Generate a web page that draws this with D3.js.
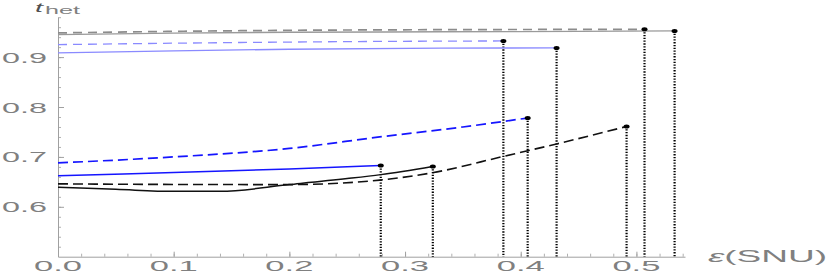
<!DOCTYPE html>
<html>
<head>
<meta charset="utf-8">
<script src="https://cdn.jsdelivr.net/npm/d3@7"></script>
<style>
  body { margin: 0; background: #fff; }
  svg { display: block; }
  .tick text { font-family: "Liberation Sans", Arial, sans-serif; fill: #808080; }
</style>
</head>
<body>
<svg class="plot" width="830" height="273"></svg>
<script>
// curves: [eps, t_het]
var greySolid   = [[0, 0.9451], [0.1, 0.9481], [0.2, 0.9498], [0.331, 0.9507], [0.45, 0.9516], [0.533, 0.9525]];
var greyDashed  = [[0, 0.9485], [0.1, 0.9516], [0.2, 0.9537], [0.331, 0.9550], [0.507, 0.9556]];
var lblueDashed = [[0, 0.925], [0.1, 0.9279], [0.2, 0.9302], [0.331, 0.9320], [0.385, 0.9324]];
var lblueSolid  = [[0, 0.9084], [0.1, 0.9125], [0.2, 0.9158], [0.331, 0.9180], [0.431, 0.9184]];
var blueDashed  = [[0, 0.688], [0.1, 0.700], [0.2, 0.717], [0.278, 0.740], [0.35, 0.760], [0.406, 0.778]];
var blueSolid   = [[0, 0.662], [0.1, 0.669], [0.2, 0.676], [0.279, 0.6826]];
var blackDashed = [[0, 0.646], [0.1, 0.6448], [0.2, 0.6445], [0.278, 0.6535], [0.323, 0.668], [0.385, 0.701], [0.431, 0.726], [0.4915, 0.761]];
var blackSolid  = [[0, 0.639], [0.05, 0.635], [0.1, 0.631], [0.14, 0.631], [0.2, 0.6445], [0.25, 0.6565], [0.279, 0.6645], [0.324, 0.681]];

var xMajor = [0, 0.1, 0.2, 0.3, 0.4, 0.5];
var yMajor = [0.6, 0.7, 0.8, 0.9];

var svg = d3.select(".plot");

var x = d3.scaleLinear().domain([0, 0.542]).range([58, 685]),
    y = d3.scaleLinear().domain([0.5, 0.98]).range([256.7, 17.2]);

var series = [
  {data: greySolid,   color: "#9a9a9a", dash: null,  w: 1.4},
  {data: greyDashed,  color: "#8c8c8c", dash: "9,6", w: 1.7},
  {data: lblueDashed, color: "#8a8aff", dash: "9,6", w: 1.3},
  {data: lblueSolid,  color: "#8a8aff", dash: null,  w: 1.3},
  {data: blueDashed,  color: "#1515ff", dash: "10,5", w: 1.7},
  {data: blueSolid,   color: "#1515ff", dash: null,  w: 1.5},
  {data: blackDashed, color: "#111",    dash: "10,5", w: 1.6},
  {data: blackSolid,  color: "#111",    dash: null,  w: 1.5}
];

// axes: minor ticks every 0.02, major with labels
var xMinor = d3.range(0, 0.5401, 0.02);
var yMinor = d3.range(0.52, 0.9801, 0.02);

svg.append("g")
    .attr("transform", "translate(0," + y(0.5) + ")")
    .call(d3.axisBottom(x).tickValues(xMinor).tickSize(-3).tickFormat(""))
    .call(function(g) { g.select(".domain").remove(); g.selectAll("line").attr("stroke", "#b0b0b0"); });

svg.append("g")
    .attr("transform", "translate(" + x(0) + ",0)")
    .call(d3.axisRight(y).tickValues(yMinor).tickSize(3).tickFormat(""))
    .call(function(g) { g.select(".domain").remove(); g.selectAll("line").attr("stroke", "#b0b0b0"); });

var gx = svg.append("g")
    .attr("transform", "translate(0," + y(0.5) + ")")
    .call(d3.axisBottom(x).tickValues(xMajor).tickSize(-5).tickSizeOuter(0).tickFormat(d3.format(".1f")));
gx.select(".domain").attr("stroke", "#a0a0a0").attr("stroke-width", 1);
gx.selectAll("line").attr("stroke", "#a0a0a0");
gx.selectAll("text")
    .attr("font-size", 14)
    .attr("text-anchor", "start")
    .attr("x", -24.5)
    .attr("y", 14.5)
    .attr("dy", 0)
    .attr("textLength", 48)
    .attr("lengthAdjust", "spacingAndGlyphs");

var gy = svg.append("g")
    .attr("transform", "translate(" + x(0) + ",0)")
    .call(d3.axisRight(y).tickValues(yMajor).tickSize(6).tickSizeOuter(0).tickFormat(d3.format(".1f")));
gy.select(".domain").attr("stroke", "#a0a0a0").attr("stroke-width", 1);
gy.selectAll("line").attr("stroke", "#a0a0a0");
gy.selectAll("text")
    .attr("font-size", 14)
    .attr("text-anchor", "start")
    .attr("x", 2 - x(0))
    .attr("dy", "0.36em")
    .attr("textLength", 45)
    .attr("lengthAdjust", "spacingAndGlyphs");

// axis titles
svg.append("text")
    .attr("x", 708).attr("y", 261.5)
    .attr("font-family", "Liberation Sans, Arial, sans-serif")
    .attr("font-size", 16)
    .attr("fill", "#808080")
    .attr("textLength", 119)
    .attr("lengthAdjust", "spacingAndGlyphs")
    .html('<tspan font-style="italic">ε</tspan>(SNU)');

var tl = svg.append("text")
    .attr("font-family", "Liberation Sans, Arial, sans-serif")
    .attr("fill", "#505050");
tl.append("tspan")
    .attr("x", 35).attr("y", 11.5)
    .attr("font-size", 12).attr("font-style", "italic")
    .attr("textLength", 8).attr("lengthAdjust", "spacingAndGlyphs")
    .text("t");
tl.append("tspan")
    .attr("x", 45).attr("y", 14)
    .attr("font-size", 10)
    .attr("textLength", 35).attr("lengthAdjust", "spacingAndGlyphs")
    .attr("fill", "#808080")
    .text("het");

// curves
var line = d3.line()
    .x(function(d) { return x(d[0]); })
    .y(function(d) { return y(d[1]); })
    .curve(d3.curveMonotoneX);

series.forEach(function(s) {
  var end = s.data[s.data.length - 1];

  svg.append("line")
      .attr("x1", x(end[0])).attr("x2", x(end[0]))
      .attr("y1", y(end[1])).attr("y2", y(0.5))
      .attr("stroke", "#000")
      .attr("stroke-width", 2.2)
      .attr("stroke-dasharray", "1.3,1.5");

  svg.append("path")
      .datum(s.data)
      .attr("d", line)
      .attr("fill", "none")
      .attr("stroke", s.color)
      .attr("stroke-width", s.w)
      .attr("stroke-dasharray", s.dash);

  svg.append("ellipse")
      .attr("cx", x(end[0])).attr("cy", y(end[1]))
      .attr("rx", 3).attr("ry", 2)
      .attr("fill", "#000");
});
</script>
</body>
</html>
